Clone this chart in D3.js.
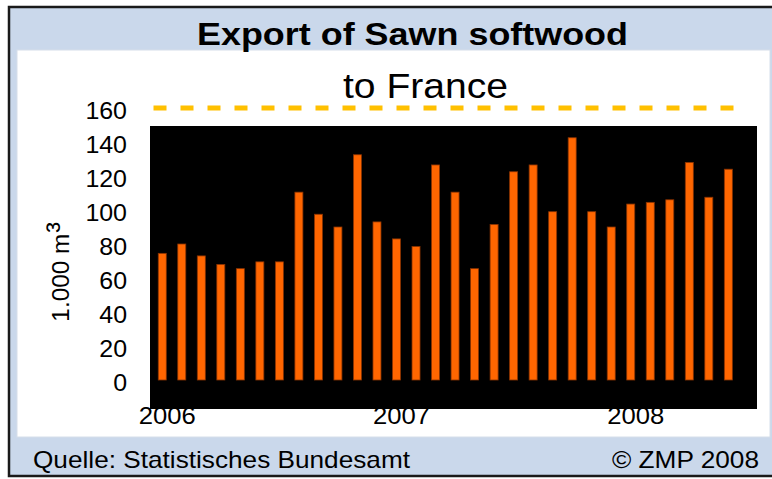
<!DOCTYPE html>
<html>
<head>
<meta charset="utf-8">
<script src="https://cdn.jsdelivr.net/npm/d3@7"></script>
<style>
  html, body { margin: 0; padding: 0; background: #ffffff; }
  svg { display: block; font-family: "Liberation Sans", Arial, sans-serif; }
</style>
</head>
<body>
<svg id="chart" width="772" height="479"></svg>
<script>
// ---- data ----
const months = [
  "2006-01","2006-02","2006-03","2006-04","2006-05","2006-06","2006-07","2006-08","2006-09","2006-10","2006-11","2006-12",
  "2007-01","2007-02","2007-03","2007-04","2007-05","2007-06","2007-07","2007-08","2007-09","2007-10","2007-11","2007-12",
  "2008-01","2008-02","2008-03","2008-04","2008-05","2008-06"
];
const exportValues = [
  74.5, 80, 73, 68, 65.5, 69.5, 69.5, 110.5, 97.5, 90, 132.5, 93,
  83, 78.5, 126.5, 110.5, 65.5, 91.5, 122.5, 126.5, 99, 142.5, 99, 90,
  103.5, 104.5, 106, 128, 107.5, 124
];
const yTicks = [0, 20, 40, 60, 80, 100, 120, 140, 160];
const yearTicks = ["2006-01", "2007-01", "2008-01"];
const yearLabels = ["2006", "2007", "2008"];
const referenceLevel = [160];
const titleText = "Export of Sawn softwood";
const subtitleText = "to France";
const yAxisTitleMain = "1.000 m";
const yAxisTitleSup = "³";
const sourceText = "Quelle: Statistisches Bundesamt";
const copyrightText = "© ZMP 2008";

// ---- layout ----
const svg = d3.select("#chart");
const W = 772, H = 479;

// outer light-blue frame
svg.append("rect").attr("x", 0).attr("y", 0).attr("width", W).attr("height", H).attr("fill", "#ffffff");
svg.append("rect").attr("x", 9).attr("y", 7).attr("width", W).attr("height", 469)
  .attr("fill", "#cad8eb").attr("stroke", "#1a1a1a").attr("stroke-width", 2.5);
// inner white panel
svg.append("rect").attr("x", 17).attr("y", 50).attr("width", 753).attr("height", 387)
  .attr("fill", "#ffffff").attr("stroke", "#d5deea").attr("stroke-width", 1);

// plot background
const plot = { left: 150, top: 126, right: 757, bottom: 409 };
svg.append("rect").attr("x", plot.left).attr("y", plot.top)
  .attr("width", plot.right - plot.left).attr("height", plot.bottom - plot.top)
  .attr("fill", "#000000");

// scales
const x = d3.scaleBand().domain(months).range([152.5, 738.1])
  .paddingInner(0.59).paddingOuter(0.295);
const y = d3.scaleLinear().domain([0, 160]).range([380, 108]);

// bars
svg.append("g").selectAll("rect").data(exportValues).join("rect")
  .attr("x", (d, i) => x(months[i]))
  .attr("y", d => y(d))
  .attr("width", x.bandwidth())
  .attr("height", d => y(0) - y(d))
  .attr("fill", "#ff6600")
  .attr("stroke", "#8a3300")
  .attr("stroke-width", 0.8);

// dashed reference line
svg.append("g").selectAll("line").data(referenceLevel).join("line")
  .attr("x1", x.range()[0] + 1).attr("x2", x.range()[1])
  .attr("y1", d => y(d)).attr("y2", d => y(d))
  .attr("stroke", "#ffc000").attr("stroke-width", 5)
  .attr("stroke-dasharray", "13,14");

// y axis
const yAxis = svg.append("g").attr("transform", "translate(127,3)")
  .call(d3.axisLeft(y).tickValues(yTicks).tickSize(0).tickPadding(0));
yAxis.select(".domain").remove();
yAxis.selectAll("text").attr("font-size", 24).attr("fill", "#000")
  .attr("font-family", "'Liberation Sans', Arial, sans-serif")
  .attr("transform", "scale(1.04,1)");

// x axis (years)
const yearMap = new Map(yearTicks.map((t, i) => [t, yearLabels[i]]));
const xAxis = svg.append("g").attr("transform", "translate(5,407.5)")
  .call(d3.axisBottom(x).tickValues(yearTicks).tickSize(0).tickPadding(0)
    .tickFormat(d => yearMap.get(d)));
xAxis.select(".domain").remove();
xAxis.selectAll("text").attr("font-size", 23).attr("fill", "#000")
  .attr("font-family", "'Liberation Sans', Arial, sans-serif")
  .attr("textLength", 57).attr("lengthAdjust", "spacingAndGlyphs");

// y axis title
const yt = svg.append("text")
  .attr("transform", "translate(69,222) rotate(-90)")
  .attr("text-anchor", "end")
  .attr("font-size", 23).attr("fill", "#000");
yt.append("tspan").attr("textLength", 88).attr("lengthAdjust", "spacingAndGlyphs").text(yAxisTitleMain);
yt.append("tspan").attr("font-size", 32).attr("dx", 1).text(yAxisTitleSup);

// title
svg.append("text").attr("x", 197).attr("y", 45)
  .attr("font-size", 32).attr("font-weight", "bold").attr("fill", "#000")
  .attr("textLength", 431).attr("lengthAdjust", "spacingAndGlyphs")
  .text(titleText);

// subtitle
svg.append("text").attr("x", 343).attr("y", 98)
  .attr("font-size", 35).attr("fill", "#000")
  .attr("textLength", 165).attr("lengthAdjust", "spacingAndGlyphs")
  .text(subtitleText);

// footer
svg.append("text").attr("x", 33).attr("y", 468)
  .attr("font-size", 24).attr("fill", "#000")
  .attr("textLength", 377).attr("lengthAdjust", "spacingAndGlyphs")
  .text(sourceText);
svg.append("text").attr("x", 612).attr("y", 468)
  .attr("font-size", 24).attr("fill", "#000")
  .attr("textLength", 147).attr("lengthAdjust", "spacingAndGlyphs")
  .text(copyrightText);
</script>
</body>
</html>
